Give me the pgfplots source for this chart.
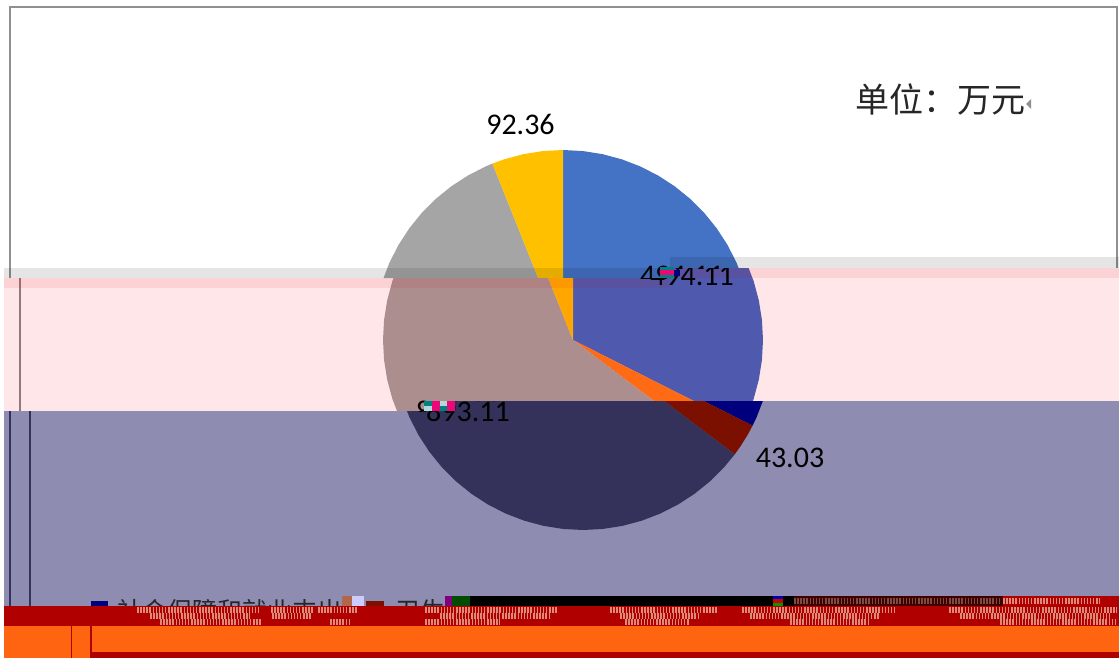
\documentclass[border=0pt]{standalone}
\usepackage{pgfplots}
\pgfplotsset{compat=1.18}
\usepackage{pgfplotstable}
\usepackage{fontspec}
\setmainfont{Carlito}
\newfontfamily\cjk{Noto Sans CJK SC}

\definecolor{cBlue}{HTML}{4472C4}
\definecolor{cGray}{HTML}{A5A5A5}
\definecolor{cGold}{HTML}{FFC000}
\definecolor{mBlue}{HTML}{4F5AAF}
\definecolor{mBig}{HTML}{AC8E8F}
\definecolor{mGold}{HTML}{FFA600}
\definecolor{mOrange}{HTML}{FF6A14}
\definecolor{bBlue}{HTML}{00007E}
\definecolor{bRed}{HTML}{7B1000}
\definecolor{bBig}{HTML}{34325A}
\definecolor{pinkBg}{HTML}{FFE6E8}
\definecolor{lilacBg}{HTML}{8E8CB0}
\definecolor{stripRed}{HTML}{B00000}
\definecolor{stripOrange}{HTML}{FF6410}
\definecolor{frameGray}{HTML}{909090}
\definecolor{salmon}{HTML}{DE8A78}

% slices as angle, radius: 494.11, 43.03, 893.11, 92.36 clockwise from the top
\pgfplotstableread[row sep=\\]{
a r\\ 0 0\\ 90 190\\ 84 190\\ 78 190\\ 72 190\\ 66 190\\ 60 190\\ 54 190\\ 48 190\\ 42 190\\ 36 190\\ 30 190\\ 24 190\\ 18 190\\ 12 190\\ 6 190\\ 0 190\\ -6 190\\ -12 190\\ -18 190\\ -24 190\\ -26.8 190\\
}\sliceA
\pgfplotstableread[row sep=\\]{
a r\\ 0 0\\ -26.8 190\\ -30 190\\ -34 190\\ -37 190\\
}\sliceB
\pgfplotstableread[row sep=\\]{
a r\\ 0 0\\ -37 190\\ -42 190\\ -48 190\\ -54 190\\ -60 190\\ -66 190\\ -72 190\\ -78 190\\ -84 190\\ -90 190\\ -96 190\\ -102 190\\ -108 190\\ -114 190\\ -120 190\\ -126 190\\ -132 190\\ -138 190\\ -144 190\\ -150 190\\ -156 190\\ -162 190\\ -168 190\\ -174 190\\ -180 190\\ -186 190\\ -192 190\\ -198 190\\ -204 190\\ -210 190\\ -216 190\\ -222 190\\ -228 190\\ -234 190\\ -240 190\\ -246 190\\ -248.2 190\\
}\sliceC
\pgfplotstableread[row sep=\\]{
a r\\ 0 0\\ -248.2 190\\ -252 190\\ -258 190\\ -264 190\\ -270 190\\
}\sliceD

\def\clipTop{\clip (axis cs:0,0) -- (axis cs:1119,0) -- (axis cs:1119,268) -- (axis cs:670,268) -- (axis cs:670,278) -- (axis cs:0,278) -- cycle;}
\def\clipMid{\clip (axis cs:0,278) -- (axis cs:670,278) -- (axis cs:670,268) -- (axis cs:1119,268) -- (axis cs:1119,401) -- (axis cs:425,401) -- (axis cs:425,411) -- (axis cs:0,411) -- cycle;}
\def\clipLow{\clip (axis cs:0,411) -- (axis cs:425,411) -- (axis cs:425,401) -- (axis cs:1119,401) -- (axis cs:1119,658) -- (axis cs:0,658) -- cycle;}

\makeatletter
\let\myBeginScope\pgfsys@beginscope
\let\myEndScope\pgfsys@endscope
\makeatother

% #1 colour, #2 clip, #3 centre x, #4 table
\newcommand\slice[4]{\addplot[fill=#1,draw=none,
    execute at begin plot visualization={\myBeginScope #2},
    execute at end plot visualization={\myEndScope}]
  table[x expr={#3+\thisrow{r}*cos(\thisrow{a})},y expr={340-\thisrow{r}*sin(\thisrow{a})}] {#4};}
% #1 x0, #2 y0, #3 x1, #4 y1, #5 options
\newcommand\block[5]{\addplot[draw=none,#5] coordinates {(#1,#2)(#3,#2)(#3,#4)(#1,#4)};}
\newcommand\vbar[4]{\addplot[draw=#4,line width=2pt] coordinates {(#1,#2)(#1,#3)};}
% stripes standing for the broken text
\newcommand\noise[4]{\addplot[draw=#4,line width=6.5pt,dash pattern=on 1.5pt off 1.6pt] coordinates {(#1,#3)(#2,#3)};}

\begin{document}
\begin{tikzpicture}
\begin{axis}[hide axis,scale only axis,width=1119pt,height=658pt,
  xmin=0,xmax=1119,ymin=0,ymax=658,y dir=reverse,clip=true]

% backgrounds
\addplot[fill=white,draw=none] coordinates {(0,0)(1119,0)(1119,658)(0,658)};
\addplot[fill=pinkBg,draw=none] coordinates {(4,278)(670,278)(670,268)(1119,268)(1119,401)(425,401)(425,411)(4,411)};
\addplot[fill=lilacBg,draw=none] coordinates {(4,411)(425,411)(425,401)(1119,401)(1119,606)(4,606)};

% pie, three pieces shifted sideways
\slice{cBlue}{\clipTop}{563}{\sliceA}
\slice{cBlue}{\clipTop}{563}{\sliceB}
\slice{cGray}{\clipTop}{563}{\sliceC}
\slice{cGold}{\clipTop}{563}{\sliceD}
\slice{mBlue}{\clipMid}{573}{\sliceA}
\slice{mOrange}{\clipMid}{573}{\sliceB}
\slice{mBig}{\clipMid}{573}{\sliceC}
\slice{mGold}{\clipMid}{573}{\sliceD}
\slice{bBlue}{\clipLow}{583}{\sliceA}
\slice{bRed}{\clipLow}{583}{\sliceB}
\slice{bBig}{\clipLow}{583}{\sliceC}
\slice{bBig}{\clipLow}{583}{\sliceD}

% frame and its shifted pieces
\addplot[draw=frameGray,line width=2pt] coordinates {(10,278)(10,7)(1117,7)(1117,268)};
\vbar{20}{278}{411}{mBig!85!black}
\vbar{10}{411}{606}{bBig}
\vbar{30}{411}{606}{bBig}

% darker bands
\addplot[fill=black,fill opacity=.1,draw=none] coordinates {(4,268)(670,268)(670,278)(4,278)};
\addplot[fill=black,fill opacity=.1,draw=none] coordinates {(670,257)(1119,257)(1119,268)(670,268)};
\addplot[fill=red!85!black,fill opacity=.08,draw=none] coordinates {(4,278)(670,278)(670,288)(4,288)};
\addplot[fill=red!85!black,fill opacity=.08,draw=none] coordinates {(670,268)(1119,268)(1119,278)(670,278)};

% labels
\pgfplotsextra{
\node[anchor=base,inner sep=0pt,font=\fontsize{30}{30}\selectfont] at (axis cs:520.5,135) {92.36};
\node[anchor=base,inner sep=0pt,font=\fontsize{30}{30}\selectfont] at (axis cs:790,467) {43.03};
\begin{scope}\clipTop
\node[anchor=base,inner sep=0pt,font=\fontsize{30}{30}\selectfont] at (axis cs:682,285) {494.11};
\end{scope}
\begin{scope}\clipMid
\node[anchor=base,inner sep=0pt,font=\fontsize{30}{30}\selectfont] at (axis cs:692,285) {494.11};
\node[anchor=base,inner sep=0pt,font=\fontsize{30}{30}\selectfont] at (axis cs:458,421) {893.11};
\end{scope}
\begin{scope}\clipLow
\node[anchor=base,inner sep=0pt,font=\fontsize{30}{30}\selectfont] at (axis cs:468,421) {893.11};
\end{scope}
\node[anchor=base west,inner sep=0pt,font=\cjk\fontsize{34}{34}\selectfont,text=black!85] at (axis cs:855,113) {单位：万元};
\node[anchor=base west,inner sep=0pt,font=\cjk\fontsize{25}{25}\selectfont,text=black!85] at (axis cs:117,620) {社会保障和就业支出};
\node[anchor=base west,inner sep=0pt,font=\cjk\fontsize{25}{25}\selectfont,text=black!85] at (axis cs:395,620) {卫生};
}
\addplot[fill=frameGray,draw=none] coordinates {(1031,99)(1031,109)(1026,104)};

% broken blocks on the labels
\block{660}{267}{674}{270}{fill=teal}
\block{660}{270}{674}{275}{fill=magenta!80!red}
\block{660}{275}{674}{278}{fill=teal}
\block{674}{270}{680}{276}{fill=bBlue}
\block{424}{401}{432}{406}{fill=teal}
\block{424}{406}{432}{411}{fill=white!70!teal}
\block{432}{401}{440}{411}{fill=magenta!80!red}
\block{440}{401}{447}{406}{fill=white!70!teal}
\block{440}{406}{447}{411}{fill=teal}
\block{447}{401}{455}{411}{fill=magenta!80!red}

% legend keys
\block{91}{601}{108}{606}{fill=bBlue}
\block{366}{601}{384}{606}{fill=bRed}

% broken row above the strip
\block{342}{596}{352}{606}{fill=violet!60!yellow}
\block{352}{596}{364}{606}{fill=white!80!blue}
\block{445}{596}{452}{606}{fill=violet}
\block{452}{596}{470}{606}{fill=green!30!black}
\block{470}{596}{773}{606}{fill=black}
\block{773}{596}{783}{599}{fill=blue!70!black}
\block{773}{599}{783}{603}{fill=red!80!black}
\block{773}{603}{783}{606}{fill=green!60!black}
\block{783}{596}{794}{606}{fill=black}
\block{794}{596}{1003}{606}{fill=black!75!red}
\block{1003}{596}{1119}{606}{fill=stripRed}
\noise{794}{1000}{601}{salmon!55!black}
\noise{1003}{1100}{601}{salmon}

% bottom strips
\block{4}{606}{1119}{626}{fill=stripRed}
\block{4}{626}{1119}{658}{fill=stripOrange}
\block{91}{652}{1119}{658}{fill=stripRed}
\addplot[draw=stripRed,line width=1.5pt] coordinates {(71.5,626)(71.5,658)};
\addplot[draw=stripRed,line width=1.5pt] coordinates {(91,626)(91,658)};

\noise{137}{260}{610}{salmon}
\noise{150}{250}{616}{salmon}
\noise{160}{262}{622}{salmon}
\noise{271}{314}{610}{salmon}
\noise{272}{312}{616}{salmon}
\noise{318}{357}{610}{salmon}
\noise{330}{350}{622}{salmon}
\noise{425}{557}{610}{salmon}
\noise{440}{550}{616}{salmon}
\noise{425}{500}{622}{salmon}
\noise{610}{717}{610}{salmon}
\noise{620}{700}{616}{salmon}
\noise{625}{690}{622}{salmon}
\noise{742}{896}{610}{salmon}
\noise{750}{880}{616}{salmon}
\noise{790}{870}{622}{salmon}
\noise{949}{1117}{610}{salmon}
\noise{960}{1110}{616}{salmon}
\noise{1000}{1117}{622}{salmon}
\end{axis}
\end{tikzpicture}
\end{document}
